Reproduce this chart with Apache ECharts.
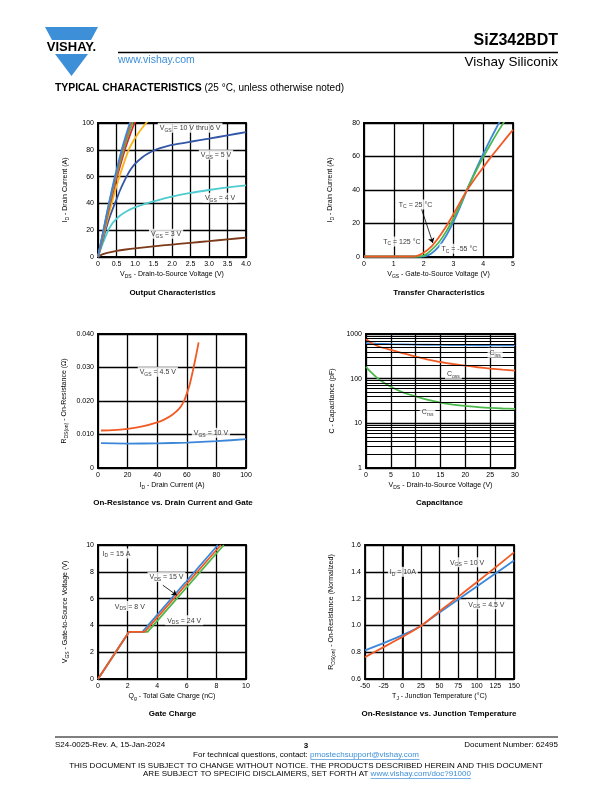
<!DOCTYPE html>
<html><head><meta charset="utf-8">
<script src="https://cdn.jsdelivr.net/npm/echarts/dist/echarts.min.js"></script>
<style>html,body{margin:0;padding:0;background:#fff}#c{width:612px;height:792px}</style>
</head><body><div id="c"></div>
<script>
// ---------- DATA ----------
// Output Characteristics (VDS [V], ID [A])
const outVgs10 = [[0,0],[0.146,20],[0.294,40],[0.456,60],[0.64,80],[0.745,90],[0.86,100],[0.98,110]];
const outVgs9  = [[0,0],[0.15,20],[0.303,40],[0.47,60],[0.66,80],[0.77,90],[0.89,100],[1.01,109]];
const outVgs8  = [[0,0],[0.157,20],[0.315,40],[0.49,60],[0.69,80],[0.805,90],[0.935,100],[1.06,108]];
const outVgs7  = [[0,0],[0.163,20],[0.33,40],[0.515,60],[0.725,80],[0.85,90],[0.99,100],[1.13,107]];
const outVgs6  = [[0,0],[0.18,20],[0.37,40],[0.58,60],[0.83,80],[1.03,90],[1.3,100],[1.45,104]];
const outVgs5  = [[0,0],[0.1,10],[0.2,19.5],[0.3,28.5],[0.4,36],[0.5,43],[0.6,50],[0.7,56],[0.8,61.5],[0.9,66],[1.0,69.5],[1.2,74.5],[1.4,78],[1.6,80.5],[1.8,82.2],[2.0,83.6],[2.5,86],[3.0,88.3],[3.5,90.8],[4.0,93.2]];
const outVgs4  = [[0,0],[0.1,8],[0.2,15],[0.3,21],[0.4,25.5],[0.5,28.5],[0.6,31],[0.8,34.5],[1.0,37],[1.25,39.5],[1.5,41.5],[2.0,45],[2.5,47.8],[3.0,50],[3.5,52],[4.0,53.5]];
const outVgs3  = [[0,0],[0.1,1.8],[0.25,3],[0.5,4.5],[0.75,5.6],[1.0,6.5],[1.5,8],[2.0,9.3],[2.5,10.6],[3.0,11.8],[3.5,13.2],[4.0,14.4]];
// Transfer Characteristics (VGS [V], ID [A])
const trans125 = [[0,0.3],[1.5,0.3],[1.75,0.5],[2.0,2.5],[2.25,6],[2.5,11.5],[2.75,18],[3.0,25.5],[3.25,33.5],[3.5,41],[3.75,47.5],[4.0,53.5],[4.25,59.5],[4.5,65],[4.75,70.5],[5.0,76]];
const trans25  = [[0,0.3],[1.75,0.3],[1.95,0.5],[2.1,1.8],[2.25,4],[2.5,8.5],[2.75,15],[3.0,23],[3.25,32],[3.5,42],[3.75,51],[4.0,59.5],[4.25,67.5],[4.5,75],[4.75,82]];
const transM55 = [[0,0.3],[1.9,0.3],[2.05,0.5],[2.25,2],[2.5,6],[2.75,12.5],[3.0,21],[3.25,31],[3.5,42],[3.75,52],[4.0,61.5],[4.25,70.5],[4.5,79],[4.75,87]];
// On-Resistance vs Drain Current (ID [A], RDS [ohm])
const rdsVgs45 = [[2,0.0112],[10,0.0113],[20,0.0117],[30,0.0124],[40,0.0136],[45,0.0145],[50,0.0158],[55,0.0178],[58,0.0199],[60,0.0222],[62,0.025],[64,0.0288],[66,0.033],[68,0.0375]];
const rdsVgs10 = [[2,0.0074],[20,0.0073],[40,0.00735],[60,0.0076],[80,0.008],[100,0.0086]];
// Capacitance (VDS [V], C [pF])
const capCiss = [[0,628],[2,610],[5,595],[10,580],[15,570],[20,563],[25,558],[30,555]];
const capCoss = [[0,775],[1,640],[2,560],[3,505],[5,440],[7.5,370],[10,310],[12.5,268],[15,236],[17.5,213],[20,196],[22.5,180],[25,168],[27.5,159],[30,152]];
const capCrss = [[0,185],[0.5,160],[1,140],[2,110],[3,90],[5,66],[7.5,49],[10,40],[12.5,33.5],[15,29],[17.5,26.3],[20,24.5],[22.5,23],[25,22.2],[27.5,21.5],[30,21]];
const capMinor = [2,3,4,5,6,7,8,9,20,30,40,50,60,70,80,90,200,300,400,500,600,700,800,900];
// Gate Charge (Qg [nC], VGS [V])
const qgVds8  = [[0,0],[2.1,3.52],[3.0,3.52],[8.1,10]];
const qgVds15 = [[0,0],[2.1,3.52],[3.15,3.52],[8.3,10]];
const qgVds24 = [[0,0],[2.1,3.52],[3.35,3.52],[8.5,10]];
// On-Resistance vs Junction Temperature (TJ [C], normalized)
const tjVgs45 = [[-50,0.813],[-25,0.868],[0,0.927],[25,0.996],[50,1.097],[75,1.193],[100,1.29],[125,1.387],[150,1.484]];
const tjVgs10 = [[-50,0.763],[-25,0.838],[0,0.914],[25,0.996],[50,1.105],[75,1.213],[100,1.322],[125,1.432],[150,1.545]];
// Annotations (data coordinates, text)
const ann1 = [[2.49,96.5,'V_{GS} = 10 V thru 6 V'],[3.19,76.3,'V_{GS} = 5 V'],[3.3,44.3,'V_{GS} = 4 V'],[1.84,17.4,'V_{GS} = 3 V']];
const ann2 = [[1.73,31.4,'T_{C} = 25 °C'],[1.27,9.3,'T_{C} = 125 °C'],[3.2,5,'T_{C} = -55 °C']];
const arrow2 = [[1.93,28.7],[2.31,8.4]];
const ann3 = [[40.4,0.0287,'V_{GS} = 4.5 V'],[76.3,0.0105,'V_{GS} = 10 V']];
const ann4 = [[26,379,'C_{iss}'],[17.6,128,'C_{oss}'],[12.4,18.2,'C_{rss}']];
const ann5 = [[1.25,9.36,'I_{D} = 15 A'],[4.63,7.62,'V_{DS} = 15 V'],[2.15,5.44,'V_{DS} = 8 V'],[5.82,4.39,'V_{DS} = 24 V']];
const arrow5 = [[4.38,7.0],[5.32,6.25]];
const ann6 = [[0.8,1.40,'I_{D} = 10A'],[87,1.471,'V_{GS} = 10 V'],[113,1.157,'V_{GS} = 4.5 V']];

// ---------- STYLE ----------
const FONT = 'Arial, "Liberation Sans", Helvetica, sans-serif';
const COL = {blue:'#3d87d9', orange:'#f15a24', green:'#4cb84b', red:'#e8222d', yellow:'#fbb416', navy:'#3356a6', cyan:'#4ecbcf', brown:'#7c3a1b'};
const G = [
  {left:98, top:123, width:148, height:134},
  {left:364, top:123, width:149, height:134},
  {left:98, top:334, width:148, height:134},
  {left:366, top:334, width:149, height:134},
  {left:98, top:545, width:148, height:134},
  {left:365, top:545, width:149, height:134}
];

function rt(s){
  let out='', last=0, m; const re=/_\{([^}]*)\}/g;
  while((m=re.exec(s))){ if(m.index>last) out+='{n|'+s.slice(last,m.index)+'}'; out+='{s|'+m[1]+'}'; last=re.lastIndex; }
  if(last<s.length) out+='{n|'+s.slice(last)+'}';
  return out;
}
function RICH(fs){
  return {
    n:{fontSize:fs, lineHeight:fs+2, fontFamily:FONT, color:'#000'},
    s:{fontSize:Math.round(fs*0.72*10)/10, lineHeight:fs*0.72, verticalAlign:'bottom', fontFamily:FONT, color:'#000'}
  };
}
function ax(i, o, lblFmt){
  const a = {gridIndex:i, type:'value',
    axisLine:{show:true, lineStyle:{color:'#000', width:1.8}},
    axisTick:{show:false},
    splitLine:{show:true, lineStyle:{color:'#000', width:1.3}},
    axisLabel:{color:'#000', fontSize:7, fontFamily:FONT, margin:4},
    nameLocation:'middle',
    nameTextStyle:{fontSize:7, fontFamily:FONT, color:'#000', rich:RICH(7)}};
  if(lblFmt) a.axisLabel.formatter = lblFmt;
  return Object.assign(a, o);
}
function ln(gi, data, color, z, extra){
  return Object.assign({type:'line', xAxisIndex:gi, yAxisIndex:gi, data:data, showSymbol:false, symbol:'none',
    lineStyle:{color:color, width:1.8}, itemStyle:{color:color}, z:z||3, smooth:0.15,
    animation:false, silent:true}, extra||{});
}
function ann(gi, items, arrow){
  const s = {type:'scatter', xAxisIndex:gi, yAxisIndex:gi, symbolSize:1, itemStyle:{color:'rgba(0,0,0,0)'},
    z:10, silent:true, animation:false,
    data: items.map(a=>({value:[a[0],a[1]], name:a[2]})),
    label:{show:true, position:'inside', formatter:p=>rt(p.name), backgroundColor:'#fff', padding:[1,2,0,2], rich:RICH(7)}};
  if(arrow){
    s.markLine = {silent:true, animation:false, symbol:['none','arrow'], symbolSize:5, label:{show:false},
      lineStyle:{color:'#000', width:0.8, type:'solid'},
      data:[[{coord:arrow[0]},{coord:arrow[1]}]]};
  }
  return s;
}
const fmt1 = v => v===0 ? '0' : v.toFixed(1);
const fmt3 = v => v===0 ? '0' : v.toFixed(3);
const fmtLog = v => String(Math.round(v));

const xAxis = [
  ax(0,{min:0,max:4,interval:0.5,name:rt('V_{DS} - Drain-to-Source Voltage (V)'),nameGap:13}, fmt1),
  ax(1,{min:0,max:5,interval:1,name:rt('V_{GS} - Gate-to-Source Voltage (V)'),nameGap:13}),
  ax(2,{min:0,max:100,interval:20,name:rt('I_{D} - Drain Current (A)'),nameGap:13}),
  ax(3,{min:0,max:30,interval:5,name:rt('V_{DS} - Drain-to-Source Voltage (V)'),nameGap:13}),
  ax(4,{min:0,max:10,interval:2,name:rt('Q_{g} - Total Gate Charge (nC)'),nameGap:13}),
  ax(5,{min:-50,max:150,interval:25,name:rt('T_{J} - Junction Temperature (°C)'),nameGap:13})
];
const yAxis = [
  ax(0,{min:0,max:100,interval:20,name:rt('I_{D} - Drain Current (A)'),nameGap:28}),
  ax(1,{min:0,max:80,interval:20,name:rt('I_{D} - Drain Current (A)'),nameGap:29}),
  ax(2,{min:0,max:0.04,interval:0.01,name:rt('R_{DS(on)} - On-Resistance (Ω)'),nameGap:29}, fmt3),
  ax(3,{type:'log',logBase:10,min:1,max:1000,name:'C - Capacitance (pF)',nameGap:30}, fmtLog),
  ax(4,{min:0,max:10,interval:2,name:rt('V_{GS} - Gate-to-Source Voltage (V)'),nameGap:28}),
  ax(5,{min:0.6,max:1.6,interval:0.2,name:rt('R_{DS(on)} - On-Resistance (Normalized)'),nameGap:29}, fmt1)
];

const series = [
  // chart 1
  ln(0,outVgs3,COL.brown), ln(0,outVgs4,COL.cyan), ln(0,outVgs5,COL.navy),
  ln(0,outVgs6,COL.yellow), ln(0,outVgs7,COL.red), ln(0,outVgs8,COL.green), ln(0,outVgs9,COL.orange), ln(0,outVgs10,COL.blue),
  ann(0,ann1),
  // chart 2
  ln(1,transM55,COL.blue), ln(1,trans25,COL.green), ln(1,trans125,COL.orange),
  ann(1,ann2,arrow2),
  // chart 3
  ln(2,rdsVgs10,COL.blue), ln(2,rdsVgs45,COL.orange),
  ann(2,ann3),
  // chart 4
  {type:'line', xAxisIndex:3, yAxisIndex:3, data:[], z:1, silent:true, animation:false,
   markLine:{silent:true, animation:false, symbol:'none', label:{show:false},
     lineStyle:{color:'#000', width:1.1, type:'solid'}, data:capMinor.map(v=>({yAxis:v}))}},
  ln(3,capCrss,COL.green), ln(3,capCiss,COL.blue), ln(3,capCoss,COL.orange),
  ann(3,ann4),
  // chart 5
  ln(4,qgVds24,COL.green,3,{smooth:false}), ln(4,qgVds8,COL.blue,3,{smooth:false}), ln(4,qgVds15,COL.orange,3,{smooth:false}),
  ann(4,ann5,arrow5),
  // chart 6
  ln(5,tjVgs45,COL.blue), ln(5,tjVgs10,COL.orange),
  ann(5,ann6)
];

function T(text,x,y,font,opts){
  const o = Object.assign({align:'left', vAlign:'middle', fill:'#000'}, opts||{});
  return {type:'text', x:x, y:y, silent:true, style:{text:text, font:font, fill:o.fill, align:o.align, textAlign:o.align, verticalAlign:o.vAlign, textVerticalAlign:o.vAlign}};
}
const BLUE = '#3d8fd8';
const titles = [
  ['Output Characteristics',172.5,292.7],['Transfer Characteristics',439,292.7],
  ['On-Resistance vs. Drain Current and Gate',173,502.7],['Capacitance',439.5,502.7],
  ['Gate Charge',172.5,713.5],['On-Resistance vs. Junction Temperature',439,713.5]
];
const graphic = [
  {type:'polygon', silent:true, shape:{points:[[45,27],[98,27],[91,40],[52,40]]}, style:{fill:BLUE}},
  {type:'polygon', silent:true, shape:{points:[[55,54],[88,54],[71.5,76]]}, style:{fill:BLUE}},
  T('VISHAY.',71.5,47.5,'bold 13px '+FONT,{align:'center'}),
  {type:'line', silent:true, shape:{x1:118,y1:52.5,x2:558,y2:52.5}, style:{stroke:'#000', lineWidth:1.3}},
  T('www.vishay.com',118,60.5,'10.5px '+FONT,{fill:BLUE}),
  T('SiZ342BDT',558,41,'bold 16px '+FONT,{align:'right'}),
  T('Vishay Siliconix',558,62.5,'13.5px '+FONT,{align:'right'}),
  {type:'text', x:55, y:88, silent:true, style:{text:'{b|TYPICAL CHARACTERISTICS}{r| (25 °C, unless otherwise noted)}',
    verticalAlign:'middle', textVerticalAlign:'middle',
    rich:{b:{fontSize:10.4, fontWeight:'bold', fontFamily:FONT, fill:'#000', color:'#000'}, r:{fontSize:10, fontFamily:FONT, fill:'#000', color:'#000'}}}},
  // footer
  {type:'line', silent:true, shape:{x1:55,y1:737,x2:558,y2:737}, style:{stroke:'#000', lineWidth:1.1}},
  T('S24-0025-Rev. A, 15-Jan-2024',55,745,'8px '+FONT),
  T('3',306,745.5,'bold 8px '+FONT,{align:'center'}),
  T('Document Number: 62495',558,745,'8px '+FONT,{align:'right'}),
  {type:'text', x:306, y:755, silent:true, style:{text:'{a|For technical questions, contact: }{l|pmostechsupport@vishay.com}',
    align:'center', textAlign:'center', verticalAlign:'middle', textVerticalAlign:'middle',
    rich:{a:{fontSize:8, fontFamily:FONT, fill:'#000', color:'#000'}, l:{fontSize:8, fontFamily:FONT, fill:BLUE, color:BLUE}}}},
  {type:'line', silent:true, shape:{x1:310.5,y1:759.5,x2:419.5,y2:759.5}, style:{stroke:BLUE, lineWidth:0.7}},
  T('THIS DOCUMENT IS SUBJECT TO CHANGE WITHOUT NOTICE. THE PRODUCTS DESCRIBED HEREIN AND THIS DOCUMENT',306,765.5,'8px '+FONT,{align:'center'}),
  {type:'text', x:307, y:774, silent:true, style:{text:'{a|ARE SUBJECT TO SPECIFIC DISCLAIMERS, SET FORTH AT }{l|www.vishay.com/doc?91000}',
    align:'center', textAlign:'center', verticalAlign:'middle', textVerticalAlign:'middle',
    rich:{a:{fontSize:8, fontFamily:FONT, fill:'#000', color:'#000'}, l:{fontSize:8, fontFamily:FONT, fill:BLUE, color:BLUE}}}},
  {type:'line', silent:true, shape:{x1:370.5,y1:778.5,x2:471,y2:778.5}, style:{stroke:BLUE, lineWidth:0.7}}
].concat(titles.map(t=>T(t[0],t[1],t[2],'bold 8px '+FONT,{align:'center'})));

const chart = echarts.init(document.getElementById('c'), null, {renderer:'canvas'});
chart.setOption({
  animation:false,
  backgroundColor:'#fff',
  grid: G.map(g=>Object.assign({show:true, borderColor:'#000', borderWidth:1.8, backgroundColor:'rgba(0,0,0,0)'}, g)),
  xAxis: xAxis,
  yAxis: yAxis,
  series: series,
  graphic: graphic
});
</script></body></html>
